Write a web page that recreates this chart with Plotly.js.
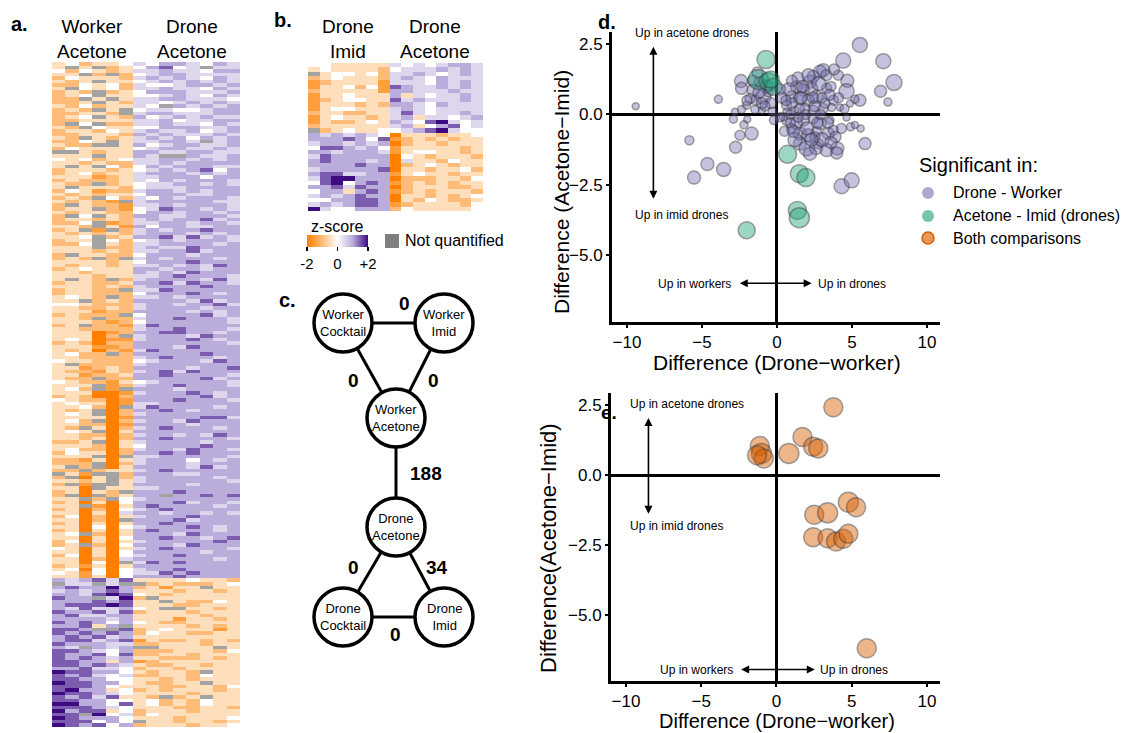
<!DOCTYPE html>
<html><head><meta charset="utf-8">
<script src="https://cdn.plot.ly/plotly-3.0.1.min.js"></script>
<style>html,body{margin:0;padding:0;background:#fff}#chart{width:1131px;height:733px}</style>
</head><body><div id="chart"></div>
<script>
// ---------- DATA ----------
// Heatmap levels: digit d -> z = (d-4)/2 ; 'x' = not quantified
const samplesA = ['WA1','WA2','WA3','WA4','WA5','WA6','DA1','DA2','DA3','DA4','DA5','DA6','DA7','DA8'];
const heatA = [
"342334|54665465","3x3x23|46745x55","424323|55655466","33x2x2|45665555","243332|56565465",
"323x33|45656565","224342|54456656","3x4342|55655465","232x23|46665556","234x33|44565465",
"22x3x3|55665554","223x32|55456565","324233|54x65656","232x3x|45544566","22332x|56655566",
"234x32|64565655","223333|55645566","2x4x22|55655465","32x433|44666556","233243|56556456",
"223332|65655565","32x323|56564656","2243x3|55665x56","322xx3|64566556","243333|45665565",
"xx3233|66556655","333x33|65xx6556","434234|55665656","332322|55656666","3x3x42|46566655",
"233323|45656746","234233|56665656","333123|55666466","232223|54656665","322x23|45566565",
"3x3332|45556666","243122|56656566","323233|46665566","232x42|54656665","32321x|56666655",
"2x3221|55656665","233x21|45766565","323322|46656656","2x4x32|66556665","233232|56566756",
"224x12|55665665","332x31|64665566","23x1x2|56566766","323232|56665656","334x23|66757565",
"233x42|45656665","224x32|55666656","333x22|56557666","333232|55667566","2x3322|46665666",
"232x2x|56566656","333323|46667666","323323|55656576","234333|66566566","332333|65657666",
"333233|55676665","3x32x2|56666575","233223|66757665","333232|56666766","23322x|55766666",
"233222|46667656","3432x2|55656666","33x232|66665756","443222|56656675","332232|56666566",
"333122|66665656","23222x|46666756","332x22|56676665","333212|46666665","23x221|57666666",
"332222|56676665","333012|66776656","33302x|56665766","343011|56667656","232022|66666665",
"333112|66657666","323021|57666666","3422x2|66666766","332222|56766656","433222|45666576",
"3x2222|56666666","331232|66665667","322132|56757666","331223|66766665","322x22|66666756",
"432213|45666665","333x12|56676665","342x1x|66656666","333001|56667656","232002|66666756",
"432201|66676665","343301|55666666","33420x|57666656","323x02|66765666","343x02|56666666",
"333301|66666775","342x02|56657666","332201|66665666","32x302|56766656","343x03|66666666",
"332202|56656576","332302|66766665","223x03|56666566","333203|46666766","342202|56657665",
"243302|66767666","333x0x|55666665","221303|56664656","222x02|56665666","3x2x03|66665756",
"22x233|56766666","x31xx2|66655666","2x03x2|56666656","3323x3|56666665","2x1xx3|66665666",
"330x33|55666666","23032x|66676666","2x0x23|66x66767","33x2x4|56666666","230304|66675665",
"33x103|67666656","230204|56766666","330305|66566565","240203|56667666","33020x|66675666",
"230303|66766666","330404|56667656","230303|67666656","34x203|66657666","330304|66766567",
"240303|56666676","23x204|66657666","430303|56766665","330304|66666566","240304|56676666",
"330205|66666656","33040x|57676666","231303|66666666","340404|56676666","431404|55767666",
"331304|66676666",
"656757|33334332","x55x5x|x2322234","676686|23133x33","565676|33323323","665787|43233333",
"766x58|2x333333","666767|33x32243","677787|33322333","657556|43xx3323","766757|23332333",
"675566|33333233","666656|33313323","767646|43223333","66736x|33332323","776xx7|23433313",
"767676|24332233","676756|33333333","677567|13223232","766655|22333233","65x656|xx3333x3",
"776546|22233324","766747|22332333","767656|33222323","776636|12333333","776765|32233233",
"667554|23323333","877664|32332x33","767545|22332433","776644|33232333","877664|32233x33",
"777643|33223324","786634|23233323","877654|33332333","767573|32x23x33","776644|34232433",
"886647|34232433","777654|33322332","867734|23332333","77x845|24333333","876664|33323334",
"777464|x3323323","876746|23332334"
];
const samplesB = ['DI1','DI2','DI3','DI4','DI5','DI6','DI7','DA1','DA2','DA3','DA4','DA5','DA6','DA7','DA8'];
const heatB = [
"4433333|54545665","3433332|45556565","x344342|55654565","2343332|56546555","1233331|55546565",
"1334241|76556565","2333331|66555655","1334333|63545565","1234433|75655565","1333232|66546555",
"1344333|56545555","2332233|57545565","1343323|56355456","1322343|65478545","2333333|56346745",
"x234334|45678544","6565654|03332334","6667647|12323233","5665656|02332333","4776564|13333323",
"6656665|13443323","5766666|04323332","6766656|05332433","6666766|02343233","5666667|03323342",
"6775566|13433233","5788666|02223324","4784676|12323233","6675766|02333223","4663676|12323332",
"5656766|03323234","4466776|03243223","5656776|12333324","8544666|24333334"
];

// Panel d: significant Drone - Worker (x = Drone-worker diff, y = Acetone-Imid diff, s = marker size)
const dwX = [-9.42,-3.91,-5.84,-4.64,-5.53,-3.56,-2.76,-1.69,-2.47,-2.2,-2.91,-1.98,-2.36,-2.4,-2.36,-1.58,-1.4,-1.47,-0.91,-1.0,-1.8,-2.02,-2.8,-1.18,-0.58,
 5.53,4.42,7.09,7.8,6.91,7.4,4.69,4.64,4.09,5.53,5.2,4.87,3.09,2.87,2.42,2.2,1.76,1.31,0.98,0.64,1.53,2.09,2.64,3.31,3.76,3.64,3.09,2.42,1.87,1.2,0.64,
 4.2,4.64,4.91,5.58,5.2,5.87,3.53,2.87,2.42,1.76,1.31,0.64,0.42,0.98,1.53,2.09,2.64,3.42,3.76,1.53,1.98,3.31,4.02,3.98,2.76,2.53,4.31,4.98,
 0.3,0.8,1.0,1.5,2.3,2.8,3.3,3.6,2.0,1.2,2.6,3.0,0.9,1.6,2.5,3.2,0.5,3.9,4.3,-0.4,-0.7,-1.2,-1.6,-2.0,-0.3,0.2,1.4,2.1,3.4,4.5,1.0,2.7,1.9,3.5,0.6,-1.0,-0.2,4.1,2.3,1.1,2.9,0.2,3.8,1.7,2.2,3.6,1.4,2.4,-1.3,-0.8,3.0,0.9];
const dwY = [0.29,0.54,-0.92,-1.77,-2.25,-1.96,-1.17,-0.68,-0.74,-0.37,-0.17,-0.17,0.18,1.19,0.93,0.87,0.51,0.18,0.63,0.15,0.57,0.33,0.1,1.17,0.81,
 2.48,1.92,1.9,1.14,0.83,0.44,1.2,0.83,1.4,0.51,0.54,0.39,1.58,1.52,1.35,1.17,0.87,0.99,0.63,0.33,0.57,0.51,0.63,0.93,0.51,0.25,0.21,0.15,0.21,0.15,0.1,
 0.25,-0.11,-0.44,-0.5,-0.38,-1.04,-0.2,-0.32,-0.14,-0.2,-0.32,-0.2,-0.08,-0.5,-0.68,-0.74,-0.62,-0.68,-0.56,-1.04,-1.21,-1.27,-1.21,-1.37,-1.04,-0.8,-2.56,-2.35,
 0.6,0.9,0.4,0.2,0.9,1.1,1.4,1.0,-0.5,-0.9,-1.2,-0.9,-0.3,0.6,0.3,0.4,-0.6,-0.8,-0.5,0.4,1.0,0.8,1.2,0.5,0.1,-0.1,1.3,1.4,-0.3,0.2,1.2,-0.3,0.0,0.7,0.5,0.4,-0.2,0.6,-0.9,-0.6,0.0,0.9,1.6,1.0,-1.4,-1.0,-0.1,0.6,1.5,0.3,0.6,0.0];
const dwS = [7,8,9,13,13,14,12,13,10,8,8,7,8,13,12,12,10,8,15,7,10,8,7,10,10,
 15,15,15,16,12,8,13,15,10,12,8,7,13,13,12,13,12,12,12,10,13,12,13,10,10,8,10,10,10,8,7,
 7,7,8,7,7,12,8,12,10,12,12,10,8,10,13,13,10,12,10,13,15,13,13,12,10,10,15,15,
 11,13,11,10,13,14,11,10,13,14,13,14,10,12,11,10,10,11,10,11,13,12,11,10,9,9,12,13,11,9,11,11,10,11,10,11,9,10,13,12,10,11,11,12,13,12,10,11,11,10,10,9];
// Significant Acetone - Imid (drones)
const aiX = [-0.73,-1.24,-0.58,-0.24,-0.42,0.71,1.49,1.93,1.36,1.49,-2.02];
const aiY = [1.96,1.25,1.17,0.99,1.25,-1.42,-2.11,-2.25,-3.42,-3.68,-4.13];
const aiS = [18,20,18,17,17,18,18,18,18,20,17];
// Panel e: significant in both comparisons
const bothX = [3.78,1.73,2.44,2.78,0.82,-1.11,-1.0,-0.84,-1.29,4.78,5.29,2.51,3.4,2.44,3.4,3.96,4.44,4.78,6.0];
const bothY = [2.43,1.37,1.02,0.96,0.78,1.05,0.78,0.6,0.72,-0.96,-1.14,-1.41,-1.34,-2.21,-2.25,-2.37,-2.27,-2.09,-6.18];
const bothS = [19,19,19,19,20,19,20,19,19,20,19,19,20,19,19,19,19,19,19];

const legendLabels = ['Drone - Worker','Acetone - Imid (drones)','Both comparisons'];
const networkNodes = [
  {name:'Worker<br>Cocktail', cx:343, cy:323},
  {name:'Worker<br>Imid', cx:444, cy:323},
  {name:'Worker<br>Acetone', cx:396, cy:418},
  {name:'Drone<br>Acetone', cx:396, cy:527},
  {name:'Drone<br>Cocktail', cx:343, cy:617},
  {name:'Drone<br>Imid', cx:444, cy:617}
];
const networkEdges = [[0,1,'0',404,303],[0,2,'0',353,380],[1,2,'0',433,380],[2,3,'188',426,473],[3,4,'0',353,567],[3,5,'34',437,567],[4,5,'0',395,634]];

// ---------- BUILD ----------
const W = 1131, H = 733;
const PX = x => x / W, PY = y => 1 - y / H;
const FONT = 'Liberation Sans, Arial, Helvetica, sans-serif';
const parse = rows => rows.map(r => r.replace('|','').split('').map(c => c === 'x' ? null : (+c - 4) / 2));
const cscale = [[0,'#ff7f00'],[0.25,'#ffbc78'],[0.5,'#ffffff'],[0.75,'#bbaddb'],[1,'#3d0a82']];

const zA = parse(heatA), zB = parse(heatB);
const traces = [
  {type:'heatmap', z:zA, x:samplesA, y:zA.map((_,i)=>i), xaxis:'x', yaxis:'y', colorscale:cscale, zmin:-2, zmax:2, showscale:false, hoverongaps:false},
  {type:'heatmap', z:zB, x:samplesB, y:zB.map((_,i)=>i), xaxis:'x2', yaxis:'y2', colorscale:cscale, zmin:-2, zmax:2, hoverongaps:false,
   showscale:true,
   colorbar:{orientation:'h', x:PX(307), xanchor:'left', y:PY(235), yanchor:'top', len:61, lenmode:'pixels', thickness:12, thicknessmode:'pixels',
     xpad:0, ypad:0, outlinewidth:0, ticks:'outside', ticklen:4, tickwidth:1.5, tickcolor:'#000',
     tickvals:[-2,0,2], ticktext:['-2','0','+2'], tickfont:{family:FONT, size:15, color:'#000'}}},
  {type:'scatter', mode:'markers', x:dwX, y:dwY, xaxis:'x3', yaxis:'y3', name:legendLabels[0], showlegend:false,
   marker:{size:dwS, color:'rgba(117,112,179,0.6)', line:{color:'rgba(50,50,50,0.65)', width:1.5}}},
  {type:'scatter', mode:'markers', x:aiX, y:aiY, xaxis:'x3', yaxis:'y3', name:legendLabels[1], showlegend:false,
   marker:{size:aiS, color:'rgba(27,158,119,0.6)', line:{color:'rgba(50,50,50,0.65)', width:1.5}}},
  {type:'scatter', mode:'markers', x:bothX, y:bothY, xaxis:'x4', yaxis:'y4', name:legendLabels[2], showlegend:false,
   marker:{size:bothS, color:'rgba(217,95,2,0.65)', line:{color:'rgba(50,50,50,0.65)', width:1.5}}}
];

const hidden = {visible:false, showgrid:false, zeroline:false, fixedrange:true};
const sAx = (dom, anchor, rng, extra) => Object.assign({
  domain:dom, anchor:anchor, range:rng, showgrid:false, zeroline:true, zerolinecolor:'#000', zerolinewidth:3,
  showline:true, linecolor:'#000', linewidth:3, ticks:'outside', ticklen:3, tickwidth:2, tickcolor:'#000',
  tickfont:{family:FONT, size:17, color:'#000'}, automargin:false, fixedrange:true
}, extra);

const layout = {
  width:W, height:H, margin:{l:0,r:0,t:0,b:0}, paper_bgcolor:'#fff', plot_bgcolor:'rgba(0,0,0,0)', showlegend:false,
  font:{family:FONT, color:'#000'},
  xaxis: Object.assign({}, hidden, {domain:[PX(52),PX(240)], anchor:'y', range:[-0.5,13.5]}),
  yaxis: Object.assign({}, hidden, {domain:[PY(727),PY(62)], anchor:'x', range:[187.5,-0.5]}),
  xaxis2: Object.assign({}, hidden, {domain:[PX(308),PX(483)], anchor:'y2', range:[-0.5,14.5]}),
  yaxis2: Object.assign({}, hidden, {domain:[PY(211),PY(63)], anchor:'x2', range:[33.5,-0.5]}),
  xaxis3: sAx([PX(612),PX(940)], 'y3', [-11,10.87], {tickvals:[-10,-5,0,5,10]}),
  yaxis3: sAx([PY(322),PY(32)], 'x3', [-7.4,2.94], {tickvals:[-5,-2.5,0,2.5], tickformat:'.1f'}),
  xaxis4: sAx([PX(611),PX(940)], 'y4', [-11,10.87], {tickvals:[-10,-5,0,5,10]}),
  yaxis4: sAx([PY(681),PY(393)], 'x4', [-7.35,2.94], {tickvals:[-5,-2.5,0,2.5], tickformat:'.1f'}),
  shapes:[], annotations:[]
};

// gray background for not-quantified cells
layout.shapes.push({type:'rect', xref:'x', yref:'y', x0:-0.5, x1:13.5, y0:-0.5, y1:187.5, fillcolor:'#a3a3a3', line:{width:0}, layer:'below'});
layout.shapes.push({type:'rect', xref:'x2', yref:'y2', x0:-0.5, x1:14.5, y0:-0.5, y1:33.5, fillcolor:'#a3a3a3', line:{width:0}, layer:'below'});

const pa = (x, y, text, size, opts) => Object.assign({xref:'paper', yref:'paper', x:PX(x), y:PY(y), text:text, showarrow:false,
  font:{family:FONT, size:size, color:'#000'}, xanchor:'center', yanchor:'middle'}, opts || {});

// axis titles of panels d and e
layout.annotations.push(pa(777, 350, 'Difference (Drone\u2212worker)', 21, {yanchor:'top', borderpad:0}));
layout.annotations.push(pa(777, 733, 'Difference (Drone\u2212worker)', 20, {yanchor:'bottom', borderpad:0}));
layout.annotations.push(pa(562, 192, 'Difference (Acetone\u2212Imid)', 21, {textangle:-90}));
layout.annotations.push(pa(548, 548, 'Difference(Acetone\u2212Imid)', 22, {textangle:-90}));

// panel letters
[['a.',19,24],['b.',283,20],['c.',287,300],['d.',607,22],['e.',609,412]].forEach(l =>
  layout.annotations.push(pa(l[1], l[2], '<b>'+l[0]+'</b>', l[0]==='e.'?19:20, {borderpad:0})));
// heatmap column headers
layout.annotations.push(pa(92, 39, 'Worker<br>Acetone', 19));
layout.annotations.push(pa(192, 39, 'Drone<br>Acetone', 19));
layout.annotations.push(pa(348, 39, 'Drone<br>Imid', 19));
layout.annotations.push(pa(435, 39, 'Drone<br>Acetone', 19));
// colorbar title & not quantified
layout.annotations.push(pa(337, 226, 'z-score', 16));
layout.shapes.push({type:'rect', xref:'paper', yref:'paper', x0:PX(385), x1:PX(399), y0:PY(248), y1:PY(234), fillcolor:'#7f7f7f', line:{width:0}});
layout.annotations.push(pa(403, 240, 'Not quantified', 16, {xanchor:'left'}));

// network diagram
const R = 29;
networkEdges.forEach(e => {
  const a = networkNodes[e[0]], b = networkNodes[e[1]];
  layout.shapes.push({type:'line', xref:'paper', yref:'paper', x0:PX(a.cx), y0:PY(a.cy), x1:PX(b.cx), y1:PY(b.cy), line:{color:'#000', width:3}});
  layout.annotations.push(pa(e[3], e[4], '<b>'+e[2]+'</b>', 19));
});
networkNodes.forEach(n => {
  layout.shapes.push({type:'circle', xref:'paper', yref:'paper', x0:PX(n.cx-R), x1:PX(n.cx+R), y0:PY(n.cy+R), y1:PY(n.cy-R),
    fillcolor:'#fff', line:{color:'#000', width:3.5}});
  layout.annotations.push(pa(n.cx, n.cy, n.name, 13));
});

// legend (manual)
layout.annotations.push(pa(917, 165, 'Significant in:', 20, {xanchor:'left'}));
const legCols = [['rgba(117,112,179,0.6)','rgba(0,0,0,0)'],['rgba(27,158,119,0.6)','rgba(0,0,0,0)'],['rgba(217,95,2,0.65)','#d95f02']];
[193,216,238].forEach((yy,i) => {
  layout.shapes.push({type:'circle', xref:'paper', yref:'paper', x0:PX(922), x1:PX(934), y0:PY(yy+6), y1:PY(yy-6),
    fillcolor:legCols[i][0], line:{color:legCols[i][1], width:1.5}});
  layout.annotations.push(pa(951, yy, legendLabels[i], 16, {xanchor:'left'}));
});

// scatter annotations (text + double arrows)
const ta = (xr, yr, x, y, text, anchor) => ({xref:xr, yref:yr, x:x, y:y, text:text, showarrow:false, xanchor:anchor||'center', yanchor:'middle',
  font:{family:FONT, size:12, color:'#000'}});
const arr = (xr, yr, x0, y0, x1, y1) => ({xref:xr, yref:yr, axref:xr, ayref:yr, x:x1, y:y1, ax:x0, ay:y0, text:'', showarrow:true,
  arrowhead:2, arrowsize:1, arrowwidth:1.6, arrowcolor:'#000', arrowside:'end+start'});
layout.annotations.push(ta('x3','y3',-5.67,2.92,'Up in acetone drones'));
layout.annotations.push(ta('x3','y3',-6.35,-3.6,'Up in imid drones'));
layout.annotations.push(ta('x3','y3',-2.91,-6.04,'Up in workers','right'));
layout.annotations.push(ta('x3','y3',2.6,-6.04,'Up in drones','left'));
layout.annotations.push(arr('x3','y3',-8.24,-3.06,-8.24,2.41));
layout.annotations.push(arr('x3','y3',-2.58,-6.02,2.31,-6.02));
layout.annotations.push(ta('x4','y4',-5.95,2.54,'Up in acetone drones'));
layout.annotations.push(ta('x4','y4',-6.65,-1.81,'Up in imid drones'));
layout.annotations.push(ta('x4','y4',-2.78,-6.94,'Up in workers','right'));
layout.annotations.push(ta('x4','y4',2.73,-6.94,'Up in drones','left'));
layout.annotations.push(arr('x4','y4',-8.51,-1.43,-8.51,2.05));
layout.annotations.push(arr('x4','y4',-2.45,-6.94,2.55,-6.94));

Plotly.newPlot('chart', traces, layout, {displayModeBar:false, staticPlot:true});
</script></body></html>
